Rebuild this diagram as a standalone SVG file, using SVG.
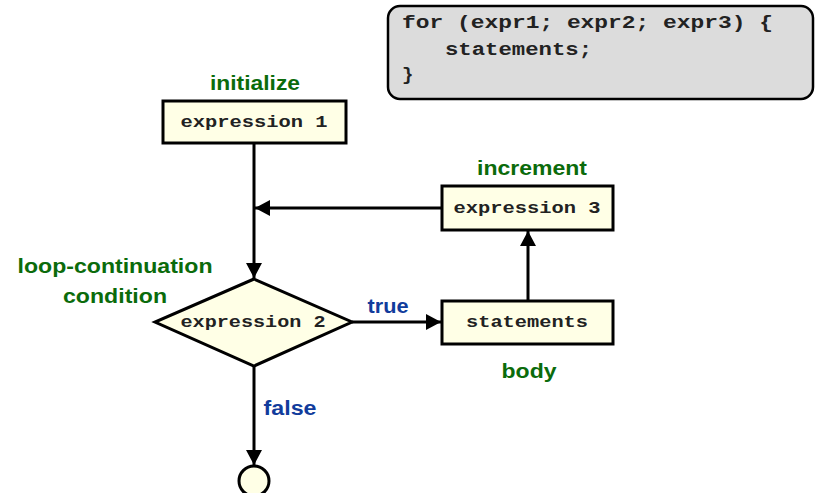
<svg xmlns="http://www.w3.org/2000/svg" width="820" height="493" viewBox="0 0 820 493">
<style>
.box{fill:#ffffe6;stroke:#000;stroke-width:3}
.code{font-family:"Liberation Mono","Courier New",monospace;font-weight:bold;fill:#222}
.lbl{font-family:"Liberation Sans",Arial,sans-serif;font-weight:bold;font-size:20px;text-anchor:middle}
.g{fill:#0b6b0b}
.b{fill:#113c9c}
.conn{stroke:#000;stroke-width:3;fill:none;marker-end:url(#ah)}
</style>
<defs>
<marker id="ah" markerUnits="userSpaceOnUse" markerWidth="16" markerHeight="16" refX="15" refY="8" orient="auto">
<path d="M0,0 L15,8 L0,16 z" fill="#000"/>
</marker>
</defs>
<rect width="820" height="493" fill="#fff"/>
<g id="code-box">
<rect x="388" y="6" width="425" height="93" rx="12" ry="12" fill="#dcdcdc" stroke="#000" stroke-width="2.5"/>
<text class="code" font-size="19" x="402" y="28" textLength="371" lengthAdjust="spacingAndGlyphs">for (expr1; expr2; expr3) {</text>
<text class="code" font-size="19" x="445" y="55" textLength="147" lengthAdjust="spacingAndGlyphs">statements;</text>
<text class="code" font-size="19" x="402" y="80">}</text>
</g>
<g id="connectors">
<line class="conn" x1="254" y1="143" x2="254" y2="278"/>
<line class="conn" x1="442" y1="208" x2="255" y2="208"/>
<line class="conn" x1="352" y1="322" x2="441" y2="322"/>
<line class="conn" x1="528" y1="301" x2="528" y2="231"/>
<line class="conn" x1="254" y1="366" x2="254" y2="465"/>
</g>
<g id="expr1">
<rect class="box" x="163" y="101" width="183" height="42"/>
<text class="code" font-size="17" x="254" y="127" text-anchor="middle" textLength="147" lengthAdjust="spacingAndGlyphs">expression 1</text>
<text class="lbl g" x="255" y="90" textLength="90" lengthAdjust="spacingAndGlyphs">initialize</text>
</g>
<g id="expr3">
<rect class="box" x="442" y="186" width="171" height="44"/>
<text class="code" font-size="17" x="527" y="213" text-anchor="middle" textLength="147" lengthAdjust="spacingAndGlyphs">expression 3</text>
<text class="lbl g" x="532" y="175" textLength="110" lengthAdjust="spacingAndGlyphs">increment</text>
</g>
<g id="statements">
<rect class="box" x="442" y="301" width="171" height="43"/>
<text class="code" font-size="17" x="527" y="327" text-anchor="middle" textLength="122" lengthAdjust="spacingAndGlyphs">statements</text>
<text class="lbl g" x="529" y="378" textLength="55" lengthAdjust="spacingAndGlyphs">body</text>
</g>
<g id="expr2">
<polygon class="box" points="254,279 352,322 254,366 155,322"/>
<text class="code" font-size="17" x="253" y="327" text-anchor="middle" textLength="145" lengthAdjust="spacingAndGlyphs">expression 2</text>
<text class="lbl g" x="115" y="273" textLength="195" lengthAdjust="spacingAndGlyphs">loop-continuation</text>
<text class="lbl g" x="115" y="303" textLength="104" lengthAdjust="spacingAndGlyphs">condition</text>
</g>
<g id="end">
<circle cx="254" cy="481" r="15" fill="#ffffe6" stroke="#000" stroke-width="3"/>
</g>
<g id="edge-labels">
<text class="lbl b" x="388" y="313" textLength="41" lengthAdjust="spacingAndGlyphs">true</text>
<text class="lbl b" x="290" y="415" textLength="53" lengthAdjust="spacingAndGlyphs">false</text>
</g>
</svg>
